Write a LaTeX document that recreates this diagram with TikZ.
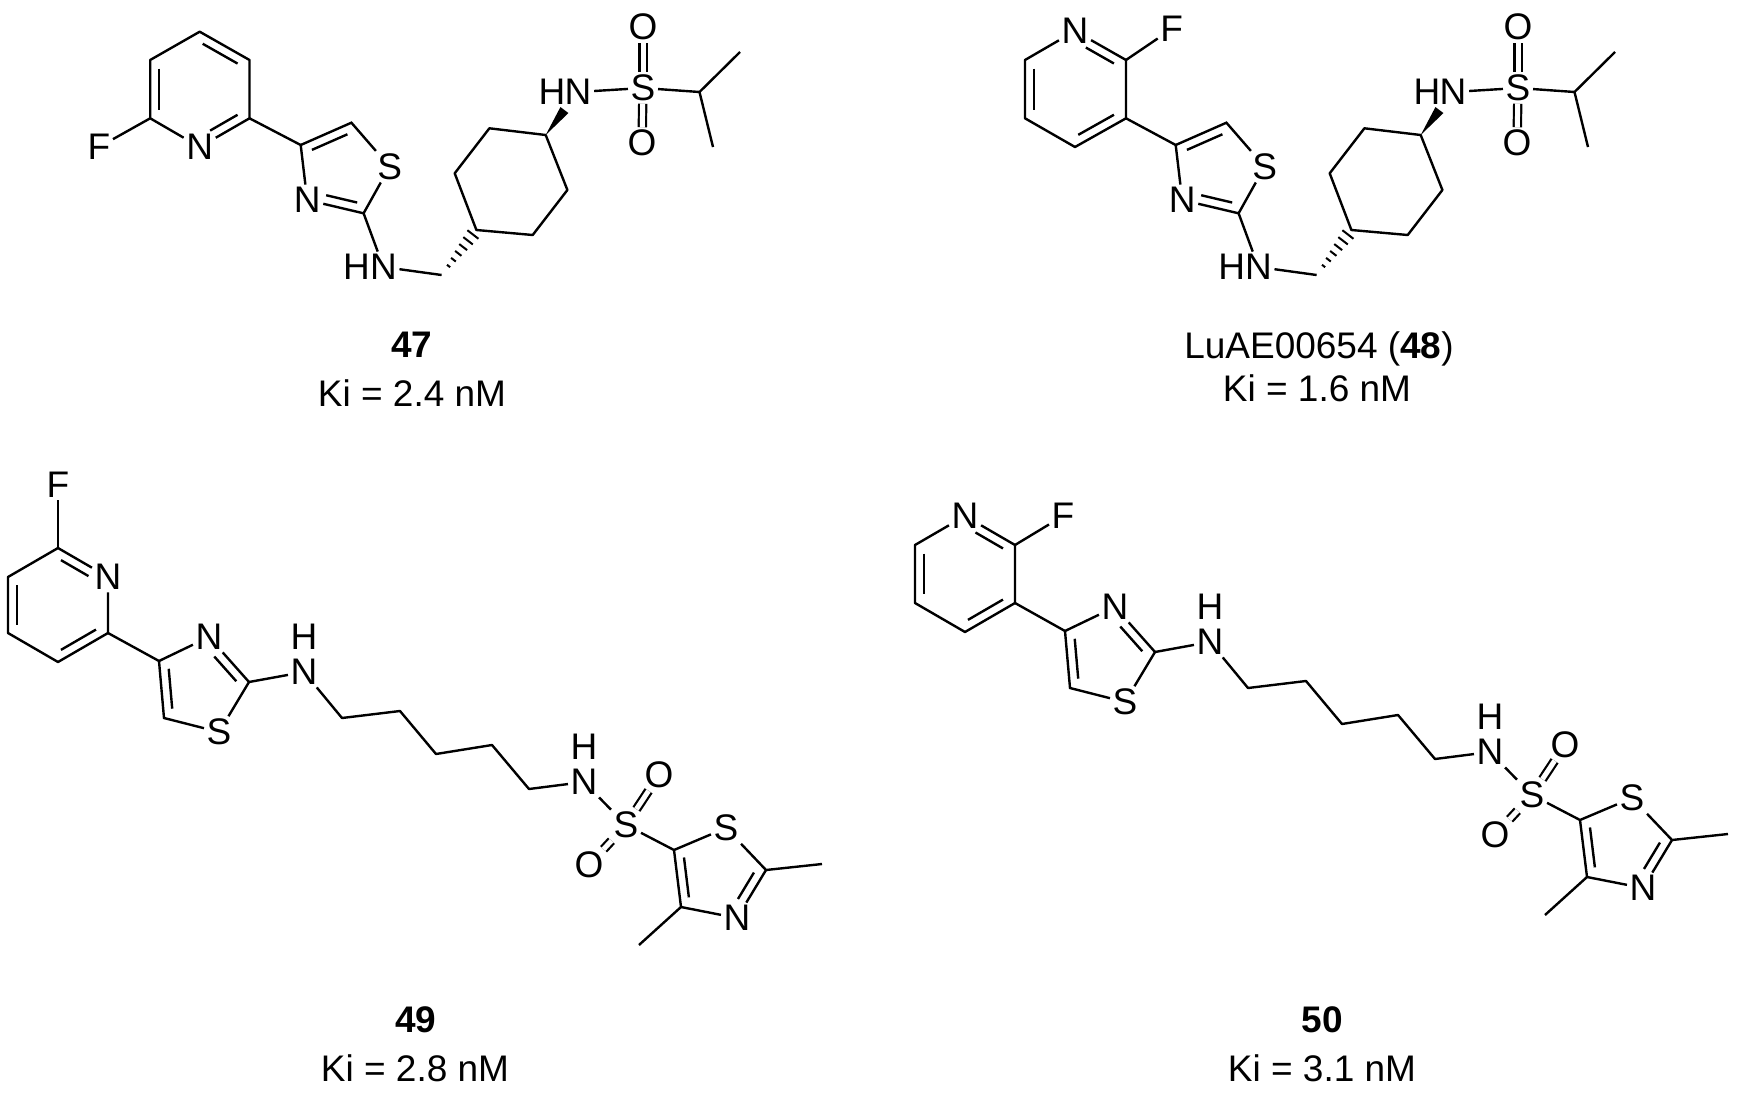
\documentclass[tikz,border=0pt]{standalone}
\usepackage{fontspec}
\setmainfont{Liberation Sans}
\usetikzlibrary{calc}
\tikzset{
 bond/.style={line width=2.4pt},
 atom/.style={inner sep=2.5pt, font=\fontsize{37}{40}\selectfont},
 lbl/.style={font=\fontsize{37}{44}\selectfont},
 dbond/.style={double, double distance=5pt, line width=2.2pt}
}
\newcommand\inb[5]{%
 \coordinate (tmpf) at ($(#1)!(#3)!(#2)$);
 \coordinate (tmpo) at ($(tmpf)!9pt!(#3)$);
 \draw[bond] ($(#1)!#4!(#2)+(tmpo)-(tmpf)$) -- ($(#1)!#5!(#2)+(tmpo)-(tmpf)$);}
% thiazole + cyclohexyl + sulfonamide (47/48)
\newcommand\partA[2]{%
 \coordinate (#1c4) at ({300.7+#2},145);
 \coordinate (#1c5) at ({351.4+#2},122.7);
 \node[atom] (#1s) at ({389.6+#2},166.7) {S};
 \coordinate (#1c2) at ({363.6+#2},213.3);
 \node[atom] (#1n3) at ({307.2+#2},200) {N};
 \coordinate (#1cen) at ({342.5+#2},169.5);
 \node[atom] (#1nh) at ({383.4+#2},267) {N};
 \node[atom] (#1h) at ({356.6+#2},267) {H};
 \coordinate (#1ch2) at ({441.6+#2},275);
 \coordinate (#1r1) at ({476.4+#2},230);
 \coordinate (#1r2) at ({532.7+#2},235);
 \coordinate (#1r3) at ({567.4+#2},190);
 \coordinate (#1r4) at ({545.7+#2},135);
 \coordinate (#1r5) at ({489.4+#2},128.3);
 \coordinate (#1r6) at ({454.7+#2},173.3);
 \node[atom] (#1n) at ({578+#2},92) {N};
 \node[atom] (#1hh) at ({552+#2},92) {H};
 \node[atom] (#1ss) at ({643+#2},88) {S};
 \node[atom] (#1o1) at ({643+#2},27) {O};
 \node[atom] (#1o2) at ({642+#2},143) {O};
 \coordinate (#1ch) at ({699.5+#2},92);
 \coordinate (#1m1) at ({740+#2},52);
 \coordinate (#1m2) at ({713+#2},147);
 \draw[bond] (#1c4) -- (#1c5) -- (#1s) -- (#1c2) -- (#1n3) -- (#1c4);
 \inb{#1c4}{#1c5}{#1cen}{0.15}{0.85}
 \inb{#1c2}{#1n3}{#1cen}{0.15}{0.7}
 \draw[bond] (#1c2) -- (#1nh) -- (#1ch2);
 \foreach \t/\w in {0.1/7pt,0.24/6pt,0.38/5pt,0.52/4pt,0.66/3pt,0.8/2pt}
   \draw[line width=2pt] ($(#1r1)!\t!(#1ch2)!\w!90:(#1ch2)$) -- ($(#1r1)!\t!(#1ch2)!\w!-90:(#1ch2)$);
 \draw[bond,line join=round] (#1r1) -- (#1r2) -- (#1r3) -- (#1r4) -- (#1r5) -- (#1r6) -- cycle;
 \fill (#1r4) -- ($(#1r4)!0.58!(#1n)!5pt!90:(#1n)$) -- ($(#1r4)!0.58!(#1n)!5pt!-90:(#1n)$) -- cycle;
 \draw[bond] (#1n) -- (#1ss) -- (#1ch) -- (#1m1) (#1ch) -- (#1m2);
 \draw[dbond] (#1ss) -- (#1o1);
 \draw[dbond] (#1ss) -- (#1o2);
}
% thiazole + pentyl + sulfonyl thiazole (49/50)
\newcommand\partB[3]{%
 \coordinate (#1c4) at ({1065+#2},{631+#3});
 \node[atom] (#1n3) at ({1115+#2},{607+#3}) {N};
 \coordinate (#1c2) at ({1155+#2},{652+#3});
 \node[atom] (#1s) at ({1125+#2},{702+#3}) {S};
 \coordinate (#1c5) at ({1070+#2},{688+#3});
 \coordinate (#1cen) at ({1106+#2},{656+#3});
 \node[atom] (#1nh) at ({1210+#2},{642+#3}) {N};
 \node[atom] (#1h) at ({1210+#2},{607+#3}) {H};
 \coordinate (#1k1) at ({1248+#2},{688+#3});
 \coordinate (#1k2) at ({1306+#2},{681+#3});
 \coordinate (#1k3) at ({1342+#2},{724+#3});
 \coordinate (#1k4) at ({1398+#2},{715+#3});
 \coordinate (#1k5) at ({1435+#2},{759+#3});
 \node[atom] (#1n2) at ({1490+#2},{752+#3}) {N};
 \node[atom] (#1h2) at ({1490+#2},{717+#3}) {H};
 \node[atom] (#1ss) at ({1532+#2},{795+#3}) {S};
 \node[atom] (#1o1) at ({1565+#2},{745+#3}) {O};
 \node[atom] (#1o2) at ({1495+#2},{835+#3}) {O};
 \coordinate (#1t5) at ({1580+#2},{820+#3});
 \node[atom] (#1ts) at ({1632+#2},{798+#3}) {S};
 \coordinate (#1t2) at ({1672+#2},{840+#3});
 \node[atom] (#1tn) at ({1643+#2},{888+#3}) {N};
 \coordinate (#1t4) at ({1587+#2},{877+#3});
 \coordinate (#1tcen) at ({1623+#2},{845+#3});
 \coordinate (#1m1) at ({1728+#2},{834+#3});
 \coordinate (#1m2) at ({1545+#2},{915+#3});
 \draw[bond] (#1c4) -- (#1n3) -- (#1c2) -- (#1s) -- (#1c5) -- (#1c4);
 \inb{#1c4}{#1c5}{#1cen}{0.15}{0.85}
 \inb{#1c2}{#1n3}{#1cen}{0.15}{0.7}
 \draw[bond,line join=round] (#1c2) -- (#1nh) -- (#1k1) -- (#1k2) -- (#1k3) -- (#1k4) -- (#1k5) -- (#1n2) -- (#1ss) -- (#1t5);
 \draw[dbond] (#1ss) -- (#1o1);
 \draw[dbond] (#1ss) -- (#1o2);
 \draw[bond] (#1t5) -- (#1ts) -- (#1t2) -- (#1tn) -- (#1t4) -- (#1t5);
 \inb{#1t5}{#1t4}{#1tcen}{0.15}{0.85}
 \inb{#1t2}{#1tn}{#1tcen}{0.15}{0.7}
 \draw[bond] (#1t2) -- (#1m1);
 \draw[bond] (#1t4) -- (#1m2);
}
\begin{document}
\begin{tikzpicture}[x=1pt,y=-1pt]
\fill[white] (0,0) rectangle (1743,1095);
\useasboundingbox (0,0) rectangle (1743,1095);
% ---------- 47 ----------
\coordinate (ap1) at (199.7,31.7);
\coordinate (ap2) at (249.5,60);
\coordinate (ap3) at (249.5,118.3);
\node[atom] (apn) at (199.7,147) {N};
\coordinate (ap5) at (150.2,118.3);
\coordinate (ap6) at (150.2,60);
\coordinate (apc) at (200,89);
\node[atom] (af) at (99,147) {F};
\draw[bond,line join=round] (ap3) -- (ap2) -- (ap1) -- (ap6) -- (ap5) -- (apn) -- (ap3);
\inb{ap1}{ap2}{apc}{0.15}{0.85}
\inb{ap6}{ap5}{apc}{0.15}{0.85}
\inb{ap3}{apn}{apc}{0.15}{0.7}
\draw[bond] (ap5) -- (af);
\partA{a}{0}
\draw[bond] (ap3) -- (ac4);
\node[lbl] (a47) at (412,345) {\textbf{47}};
\node[lbl] (aki) at (412,393) {Ki = 2.4 nM};
% ---------- 48 ----------
\node[atom] (bpn) at (1075,31) {N};
\coordinate (bp2) at (1126,60);
\coordinate (bp3) at (1126,118.3);
\coordinate (bp4) at (1075,147);
\coordinate (bp5) at (1025,118.3);
\coordinate (bp6) at (1025,60);
\coordinate (bpc) at (1075.5,89);
\node[atom] (bf) at (1171.7,29) {F};
\draw[bond,line join=round] (bpn) -- (bp2) -- (bp3) -- (bp4) -- (bp5) -- (bp6) -- (bpn);
\inb{bp2}{bpn}{bpc}{0.15}{0.7}
\inb{bp3}{bp4}{bpc}{0.15}{0.85}
\inb{bp6}{bp5}{bpc}{0.15}{0.85}
\draw[bond] (bp2) -- (bf);
\partA{b}{875}
\draw[bond] (bp3) -- (bc4);
\node[lbl] (b48) at (1319,349) {LuAE00654 (\textbf{48})};
\node[lbl] (bki) at (1317,388) {Ki = 1.6 nM};
% ---------- 49 ----------
\coordinate (cp1) at (58,548);
\node[atom] (cpn) at (108,577) {N};
\coordinate (cp3) at (108,633);
\coordinate (cp4) at (58,662);
\coordinate (cp5) at (8,633);
\coordinate (cp6) at (8,577);
\coordinate (cpc) at (58,605);
\node[atom] (cf) at (58,485) {F};
\draw[bond,line join=round] (cpn) -- (cp3) -- (cp4) -- (cp5) -- (cp6) -- (cp1) -- (cpn);
\inb{cp1}{cpn}{cpc}{0.15}{0.7}
\inb{cp3}{cp4}{cpc}{0.15}{0.85}
\inb{cp6}{cp5}{cpc}{0.15}{0.85}
\draw[bond] (cp1) -- (cf);
\partB{c}{-906}{30}
\draw[bond] (cp3) -- (cc4);
\node[lbl] (c49) at (416,1020) {\textbf{49}};
\node[lbl] (cki) at (415,1068) {Ki = 2.8 nM};
% ---------- 50 ----------
\node[atom] (dpn) at (965,516) {N};
\coordinate (dp2) at (1015,545);
\coordinate (dp3) at (1015,603);
\coordinate (dp4) at (965,632);
\coordinate (dp5) at (915,603);
\coordinate (dp6) at (915,545);
\coordinate (dpc) at (965,574);
\node[atom] (df) at (1063,516) {F};
\draw[bond,line join=round] (dpn) -- (dp2) -- (dp3) -- (dp4) -- (dp5) -- (dp6) -- (dpn);
\inb{dp2}{dpn}{dpc}{0.15}{0.7}
\inb{dp3}{dp4}{dpc}{0.15}{0.85}
\inb{dp6}{dp5}{dpc}{0.15}{0.85}
\draw[bond] (dp2) -- (df);
\partB{d}{0}{0}
\draw[bond] (dp3) -- (dc4);
\node[lbl] (d50) at (1322,1020) {\textbf{50}};
\node[lbl] (dki) at (1322,1068) {Ki = 3.1 nM};
\end{tikzpicture}
\end{document}
